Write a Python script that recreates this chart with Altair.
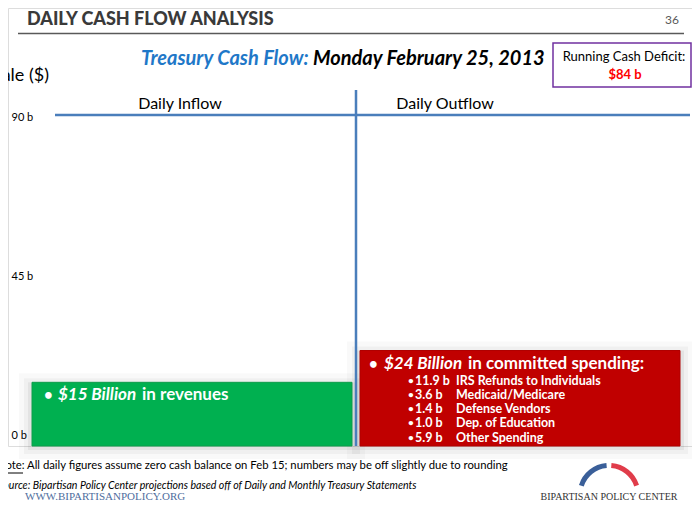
import altair as alt
import pandas as pd

# ---------------- data ----------------
categories = ["Daily Inflow", "Daily Outflow"]
flow_values = [15, 24]            # $ billions
flow_colors = ["#00b050", "#c00000"]
flow_strokes = ["#0d9d4a", "#b00000"]

spend_values = [11.9, 3.6, 1.4, 1.0, 5.9]
spend_labels = ["IRS Refunds to Individuals", "Medicaid/Medicare",
                "Defense Vendors", "Dep. of Education", "Other Spending"]

y_ticks = [0, 45, 90]
running_deficit = 84
slide_date = "Monday February 25, 2013"
page_number = "36"

# ---------------- layout constants ----------------
W, H = 684, 438
FONT = "Lato"
SERIF = "Liberation Serif"
LINE_BLUE = "#4a7ebb"

flows = pd.DataFrame({"category": categories, "value": flow_values})
spend = pd.DataFrame({"amount": spend_values, "item": spend_labels,
                      "i": list(range(len(spend_values)))})

x_enc = alt.X("category:N", axis=None,
              scale=alt.Scale(domain=categories, range=[24, 672],
                              paddingInner=0.0244, paddingOuter=0))
y_enc = alt.Y("value:Q", title=None, stack=None,
              scale=alt.Scale(domain=[0, 90], range=[427.3, 109.3], nice=False),
              axis=alt.Axis(values=y_ticks, labelExpr="datum.value + ' b'",
                            ticks=False, tickSize=0, domain=False, grid=False,
                            labelAlign="left", labelPadding=0, offset=-3,
                            labelBaseline="middle",
                            labelFont=FONT, labelFontSize=11, labelColor="#000"))
color_enc = alt.Color("category:N", legend=None,
                      scale=alt.Scale(domain=categories, range=flow_colors))
stroke_enc = alt.Stroke("category:N", legend=None,
                        scale=alt.Scale(domain=categories, range=flow_strokes))

base = alt.Chart(flows)

# soft drop shadows of the boxes
halos = [
    base.mark_bar(fillOpacity=0, stroke="#000", strokeOpacity=op, strokeWidth=sw, yOffset=4)
    .encode(x=x_enc, y=y_enc, y2=alt.value("height"))
    for sw, op in [(26, 0.025), (16, 0.035), (8, 0.05)]
]

bars = base.mark_bar(strokeWidth=1).encode(
    x=x_enc, y=y_enc, y2=alt.value("height"), color=color_enc, stroke=stroke_enc)


def txt(text, x, y, size=12, color="#000", weight="normal", style="normal",
        align="left", font=FONT, baseline="middle"):
    return alt.Chart(pd.DataFrame({"t": [text]})).mark_text(
        font=font, fontSize=size, color=color, fontWeight=weight, fontStyle=style,
        align=align, baseline=baseline).encode(
        x=alt.value(x), y=alt.value(y), text="t:N")


def rule(x, x2, y, y2, color, width):
    return alt.Chart(pd.DataFrame({"a": [0]})).mark_rule(
        color=color, strokeWidth=width).encode(
        x=alt.value(x), x2=alt.value(x2), y=alt.value(y), y2=alt.value(y2))


# header of slide
header = [
    txt("DAILY CASH FLOW ANALYSIS", 19, 12, size=18, color="#3a3a3a", weight=900),
    txt(page_number, 657, 12, size=12, color="#595959"),
    rule(10, 676, 25.5, 25.5, "#595959", 1.5),
    txt("Treasury Cash Flow:", 133, 51, size=20, color="#1f78c8", weight="bold", style="italic"),
    txt(slide_date, 305, 51, size=20, color="#000", weight="bold", style="italic"),
]

deficit_box = alt.Chart(pd.DataFrame({"a": [0]})).mark_rect(
    fill="#ffffff", stroke="#7030a0", strokeWidth=1.5).encode(
    x=alt.value(545), x2=alt.value(683), y=alt.value(35), y2=alt.value(79))
deficit = [
    deficit_box,
    txt("Running Cash Deficit:", 616, 49, size=13, align="center"),
    txt(f"${running_deficit} b", 617, 67, size=13, color="#ff0000", weight="bold", align="center"),
]

frame = [
    txt("Scale ($)", 41, 68, size=18, align="right"),
    rule(47, 682, 107, 107, LINE_BLUE, 2.5),
    rule(348, 348, 82, 438, LINE_BLUE, 2.5),
    txt(categories[0], 172, 96, size=16, align="center"),
    txt(categories[1], 437, 96, size=16, align="center"),
]

# text in the green box
green_txt = [
    txt("•", 36, 387, size=15, color="#fff", weight="bold"),
    txt(f"${flow_values[0]} Billion", 50, 387, size=17, color="#fff", weight="bold", style="italic"),
    txt("in revenues", 134, 387, size=17, color="#fff", weight="bold"),
]

# text in the red box
red_txt = [
    txt("•", 361, 356, size=15, color="#fff", weight="bold"),
    txt(f"${flow_values[1]} Billion", 376, 356, size=17, color="#fff", weight="bold", style="italic"),
    txt("in committed spending:", 460, 356, size=17, color="#fff", weight="bold"),
]
SUB_Y0, SUB_DY = 372.5, 14.3
sub = alt.Chart(spend).transform_calculate(
    py=f"{SUB_Y0} + datum.i * {SUB_DY}",
    amt="format(datum.amount, '.1f') + ' b'")
red_items = [
    sub.mark_text(font=FONT, fontSize=10, color="#fff", fontWeight="bold", align="left",
                  baseline="middle").encode(x=alt.value(400), y=alt.Y("py:Q", scale=None, axis=None),
                                            text=alt.value("•")),
    sub.mark_text(font=FONT, fontSize=12.5, color="#fff", fontWeight="bold", align="left",
                  baseline="middle").encode(x=alt.value(407), y=alt.Y("py:Q", scale=None, axis=None),
                                            text="amt:N"),
    sub.mark_text(font=FONT, fontSize=12.5, color="#fff", fontWeight="bold", align="left",
                  baseline="middle").encode(x=alt.value(448), y=alt.Y("py:Q", scale=None, axis=None),
                                            text="item:N"),
]

# footer
footer = [
    txt("Note: All daily figures assume zero cash balance on Feb 15; numbers may be off slightly due to rounding",
        -11, 458, size=11.3),
    rule(-11, 15, 465, 465, "#000", 1),
    txt("Source: Bipartisan Policy Center projections based off of Daily and Monthly Treasury  Statements",
        -10, 478, size=10.6, style="italic"),
    txt("WWW.BIPARTISANPOLICY.ORG", 17, 489, size=11, color="#4f6e9e", font=SERIF),
    alt.Chart(pd.DataFrame({"a": [0]})).mark_arc(
        innerRadius=26.5, outerRadius=31.5, theta=5.02, theta2=6.20, color="#3a5f99").encode(
        x=alt.value(601), y=alt.value(486.5)),
    alt.Chart(pd.DataFrame({"a": [0]})).mark_arc(
        innerRadius=26.5, outerRadius=31.5, theta=0.08, theta2=1.26, color="#e03c4a").encode(
        x=alt.value(601), y=alt.value(486.5)),
    txt("BIPARTISAN POLICY CENTER", 601, 489, size=10, color="#333", font=SERIF, align="center"),
]

chart = alt.layer(
    *halos, bars, *header, *deficit, *frame, *green_txt, *red_txt, *red_items, *footer
).properties(
    width=W, height=H,
    autosize=alt.AutoSizeParams(type="none"),
    padding={"left": 0, "top": 0, "right": 0, "bottom": 71},
).configure_view(stroke=None).configure(background="#ffffff")

chart.save("out.html", embed_options={"renderer": "svg", "actions": False})
